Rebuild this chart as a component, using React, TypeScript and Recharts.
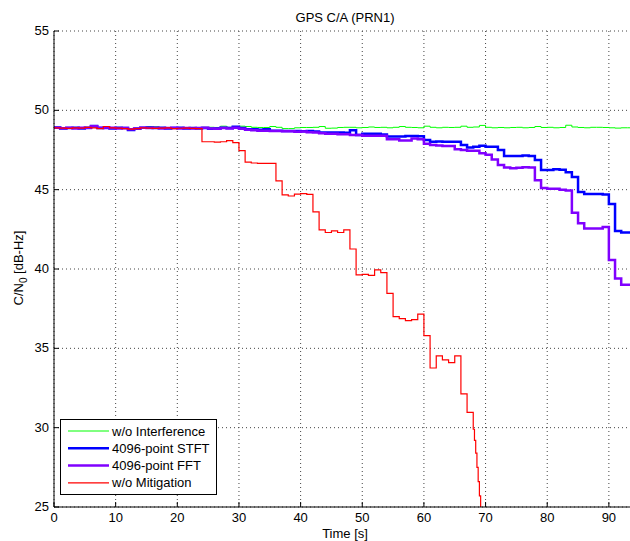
import React from 'react';
import { LineChart, Line, XAxis, YAxis, CartesianGrid } from 'recharts';

// time base, one sample per second
const seconds = Array.from({ length: 95 }, (_, i) => i);

const noInterference = [
  48.9, 48.88, 48.9, 48.92, 48.88, 48.9, 48.95, 48.9, 48.88, 48.9,
  48.92, 48.88, 48.85, 48.88, 48.9, 48.97, 48.97, 48.9, 48.88, 48.9,
  48.88, 48.9, 48.9, 48.92, 48.93, 48.93, 48.92, 49.0, 48.93, 48.92,
  49.0, 48.98, 48.93, 48.92, 48.92, 48.98, 48.93, 48.85, 48.85, 48.9,
  48.92, 48.92, 48.93, 48.98, 48.87, 48.88, 48.92, 48.93, 48.93, 48.9,
  48.92, 48.95, 48.92, 48.93, 48.9, 48.93, 48.98, 48.93, 48.92, 48.9,
  49.0, 48.93, 48.9, 48.93, 48.92, 48.93, 49.0, 48.93, 48.95, 49.05,
  48.93, 48.9, 48.92, 48.9, 48.92, 48.93, 48.9, 48.92, 48.98, 48.92,
  48.93, 48.9, 48.92, 49.06, 48.95, 48.92, 48.9, 48.93, 48.93, 48.92,
  48.9, 48.88, 48.9, 48.9, 48.9];

const stft4096 = [
  48.92, 48.85, 48.88, 48.9, 48.86, 48.9, 49.02, 48.88, 48.9, 48.85,
  48.9, 48.88, 48.76, 48.84, 48.9, 48.92, 48.88, 48.9, 48.85, 48.88,
  48.9, 48.86, 48.88, 48.85, 48.88, 48.84, 48.86, 48.9, 48.88, 48.97,
  48.88, 48.8, 48.8, 48.78, 48.8, 48.72, 48.72, 48.7, 48.7, 48.7,
  48.68, 48.7, 48.66, 48.6, 48.6, 48.6, 48.6, 48.58, 48.75, 48.45,
  48.52, 48.52, 48.52, 48.48, 48.35, 48.35, 48.35, 48.38, 48.38, 48.36,
  48.13, 48.02, 48.04, 48.02, 48.02, 48.02, 47.82, 47.65, 47.7, 47.77,
  47.7, 47.7, 47.5, 47.12, 47.12, 47.12, 47.15, 47.12, 46.87, 46.24,
  46.24, 46.28, 46.26, 46.1, 45.8, 44.85, 44.72, 44.72, 44.72, 44.7,
  44.1, 42.4, 42.3, 42.3, 42.3];

const fft4096 = [
  48.9, 48.87, 48.9, 48.86, 48.9, 48.88, 49.0, 48.9, 48.88, 48.9,
  48.86, 48.88, 48.8, 48.86, 48.9, 48.88, 48.9, 48.86, 48.88, 48.9,
  48.86, 48.88, 48.86, 48.88, 48.9, 48.86, 48.84, 48.88, 48.86, 48.9,
  48.84, 48.78, 48.75, 48.72, 48.72, 48.7, 48.7, 48.68, 48.68, 48.65,
  48.66, 48.62, 48.6, 48.55, 48.52, 48.52, 48.5, 48.5, 48.45, 48.45,
  48.4, 48.4, 48.4, 48.4, 48.17, 48.17, 48.1, 48.1, 48.22, 48.17,
  47.9, 47.82, 47.78, 47.76, 47.76, 47.55, 47.5, 47.45, 47.45, 47.3,
  47.2, 46.9, 46.56, 46.4, 46.35, 46.38, 46.42, 46.4, 45.6, 45.1,
  45.05, 45.05, 45.0, 44.94, 43.55, 42.88, 42.55, 42.55, 42.55, 42.65,
  40.57, 39.4, 39.0, 39.0, 39.0];

// unmitigated signal, 0..67 s
const noMitigation = [
  48.9, 48.88, 48.86, 48.9, 48.88, 48.92, 48.9, 48.85, 48.98, 48.9,
  48.88, 48.85, 48.82, 48.85, 48.9, 48.88, 48.86, 48.88, 48.9, 48.85,
  48.87, 48.88, 48.86, 48.85, 48.02, 48.02, 48.0, 48.02, 48.09, 47.96,
  47.46, 46.73, 46.68, 46.66, 46.66, 46.66, 45.55, 44.67, 44.6, 44.72,
  44.75, 44.7, 43.6, 42.46, 42.3, 42.4, 42.3, 42.46, 41.26, 39.63,
  39.66, 39.6, 39.94, 39.77, 38.47, 37.0, 36.87, 36.75, 36.81, 37.15,
  35.8, 33.76, 34.52, 34.27, 34.1, 34.52, 32.13, 30.97];
// loss of lock, finer sampling
const lossTimes = [68, 68.2, 68.4, 68.6, 68.8, 69, 69.2, 69.4, 69.6];
const lossValues = [29.9, 29.2, 28.4, 27.5, 26.6, 25.7, 24.8, 23.8, 22.8];

const xTicks = [0, 10, 20, 30, 40, 50, 60, 70, 80, 90];
const yTicks = [25, 30, 35, 40, 45, 50, 55];

const greenData = seconds.map((t, i) => ({ t, v: noInterference[i] }));
const blueData = seconds.map((t, i) => ({ t, v: stft4096[i] }));
const purpleData = seconds.map((t, i) => ({ t, v: fft4096[i] }));
const redData = noMitigation
  .map((v, i) => ({ t: seconds[i], v }))
  .concat(lossTimes.map((t, i) => ({ t, v: lossValues[i] })));

const FONT = '"Liberation Sans", Arial, Helvetica, sans-serif';
const FS = 13;

const BottomTick = (props: any) => {
  const { x, y, payload } = props;
  return (
    <g>
      <line x1={x} x2={x} y1={y} y2={y - 5} stroke="#000" />
      <text x={x} y={y + 15} textAnchor="middle" fontSize={FS} fontFamily={FONT} fill="#000">
        {payload.value}
      </text>
    </g>);
};

const TopTick = (props: any) => {
  const { x, y } = props;
  return <line x1={x} x2={x} y1={y} y2={y + 5} stroke="#000" />;
};

const LeftTick = (props: any) => {
  const { x, y, payload } = props;
  return (
    <g>
      <line x1={x} x2={x + 5} y1={y} y2={y} stroke="#000" />
      <text x={x - 5} y={y + 4} textAnchor="end" fontSize={FS} fontFamily={FONT} fill="#000">
        {payload.value}
      </text>
    </g>);
};

const legendRows = [
  { name: 'w/o Interference', color: '#00ff00', width: 1 },
  { name: '4096-point STFT', color: '#0000ff', width: 2.5 },
  { name: '4096-point FFT', color: '#8000ff', width: 2.5 },
  { name: 'w/o Mitigation', color: '#ff0000', width: 1.2 }];

export default function App() {
  return (
    <div style={{ position: 'absolute', left: 0, top: 0, width: 630, height: 541, overflow: 'hidden', background: '#fff' }}>
      <LineChart width={660} height={541} margin={{ top: 31, right: 24, bottom: 0, left: 0 }}>
        <CartesianGrid stroke="#444" strokeDasharray="1 3" />
        <XAxis
          dataKey="t"
          type="number"
          domain={[0, 94.4]}
          ticks={xTicks}
          allowDataOverflow
          height={34}
          tickSize={0}
          tickMargin={0}
          tickLine={false}
          axisLine={{ stroke: '#000' }}
          tick={<BottomTick />} />
        <XAxis
          xAxisId="top"
          orientation="top"
          dataKey="t"
          type="number"
          domain={[0, 94.4]}
          ticks={xTicks}
          allowDataOverflow
          height={0}
          tickSize={0}
          tickMargin={0}
          tickLine={false}
          axisLine={{ stroke: '#000' }}
          tick={<TopTick />} />
        <YAxis
          type="number"
          domain={[25, 55]}
          ticks={yTicks}
          allowDataOverflow
          width={54}
          tickSize={0}
          tickMargin={0}
          tickLine={false}
          axisLine={{ stroke: '#000' }}
          tick={<LeftTick />} />
        <Line data={greenData} dataKey="v" type="stepAfter" stroke="#00ff00" strokeWidth={1} dot={false} isAnimationActive={false} />
        <Line data={blueData} dataKey="v" type="stepAfter" stroke="#0000ff" strokeWidth={2.5} dot={false} isAnimationActive={false} />
        <Line data={purpleData} dataKey="v" type="stepAfter" stroke="#8000ff" strokeWidth={2.5} dot={false} isAnimationActive={false} />
        <Line data={redData} dataKey="v" type="stepAfter" stroke="#ff0000" strokeWidth={1.2} dot={false} isAnimationActive={false} />
      </LineChart>
      <svg
        width={630}
        height={541}
        style={{ position: 'absolute', left: 0, top: 0, pointerEvents: 'none' }}
        fontFamily={FONT}>
        <text x={345} y={22} textAnchor="middle" fontSize={FS} fill="#000">GPS C/A (PRN1)</text>
        <text x={345} y={538} textAnchor="middle" fontSize={FS} fill="#000">Time [s]</text>
        <text transform="translate(23,268) rotate(-90)" textAnchor="middle" fontSize={FS} fill="#000">
          C/N<tspan dy={4} fontSize={10}>0</tspan><tspan dy={-4}> [dB-Hz]</tspan>
        </text>
        <rect x={60.5} y={419.5} width={156} height={75} fill="#fff" stroke="#000" />
        {legendRows.map((row, i) => {
          const cy = 431 + i * 17.3;
          return (
            <g key={row.name}>
              <line x1={68} x2={109} y1={cy} y2={cy} stroke={row.color} strokeWidth={row.width} />
              <text x={112} y={cy + 4.5} fontSize={FS} fill="#000">{row.name}</text>
            </g>);
        })}
      </svg>
    </div>);
}
